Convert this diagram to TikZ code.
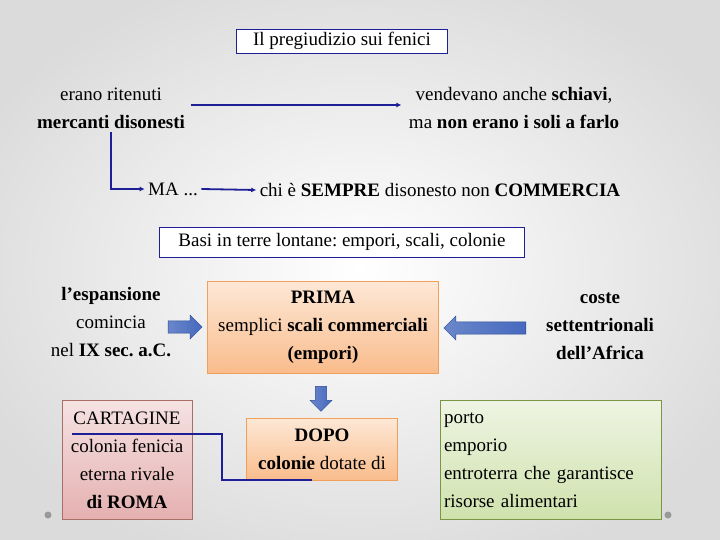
\documentclass[tikz,border=0pt]{standalone}
\usepackage{fontspec}
\setmainfont{Liberation Serif}
\frenchspacing
\usetikzlibrary{shapes.arrows,arrows.meta}
\definecolor{navy}{RGB}{30,30,150}
\definecolor{orbord}{RGB}{240,160,90}
\definecolor{ortop}{RGB}{253,232,214}
\definecolor{orbot}{RGB}{249,188,140}
\definecolor{pktop}{RGB}{246,226,226}
\definecolor{pkbot}{RGB}{229,176,176}
\definecolor{pkbord}{RGB}{170,110,105}
\definecolor{grtop}{RGB}{238,244,226}
\definecolor{grbot}{RGB}{207,226,173}
\definecolor{grbord}{RGB}{120,150,70}
\definecolor{arfill}{RGB}{70,105,190}
\definecolor{arbord}{RGB}{45,75,145}
\begin{document}
\begin{tikzpicture}[x=1pt,y=-1pt,font=\fontsize{19}{28}\selectfont,
  titlebox/.style={draw=navy,fill=white,inner sep=3pt},
  link/.style={navy,line width=1.8pt,-{Latex[length=5pt,width=5pt]}},
  orbox/.style={draw=orbord,top color=ortop,bottom color=orbot,align=center},
  blockar/.style={single arrow,draw=arbord,left color=arfill!80,right color=arfill,
    minimum height=#1,minimum width=24pt,single arrow head extend=3pt,inner sep=3pt}]
  \useasboundingbox (0,0) rectangle (720,540);
  \shade[inner color=white,outer color=black!14] (-60,-40) rectangle (780,580);
  \fill[black!40] (48,515) circle(3.5pt) (668,515) circle(3.5pt);
  % top part
  \node[titlebox,minimum width=211pt] (titolo) at (342,41) {Il pregiudizio sui fenici};
  \node[align=center] (ritenuti) at (111,108) {erano ritenuti\\\textbf{mercanti disonesti}};
  \node[align=center] (schiavi) at (514,108) {vendevano anche \textbf{schiavi},\\ma \textbf{non erano i soli a farlo}};
  \node (ma) at (173,189) {MA ...};
  \node (sempre) at (440,190) {chi è \textbf{SEMPRE} disonesto non \textbf{COMMERCIA}};
  \draw[link] ([xshift=2pt,yshift=3pt]ritenuti.east)--([xshift=-4pt,yshift=3pt]schiavi.west);
  \draw[link] (ritenuti.south)|-(ma.west);
  \draw[link] (ma.east)--(sempre.west);
  % basi
  \node[titlebox,minimum width=365pt,minimum height=30pt] (basi) at (342,242) {Basi in terre lontane: empori, scali, colonie};
  \node[align=center] (espansione) at (111,322) {\textbf{l’espansione}\\comincia\\nel \textbf{IX sec. a.C.}};
  \node[orbox,minimum width=231pt,minimum height=92pt] (prima) at (323,327)
    {\textbf{PRIMA}\\semplici \textbf{scali commerciali}\\\textbf{(empori)}};
  \node[align=center] (coste) at (600,326) {\textbf{coste}\\\textbf{settentrionali}\\\textbf{dell’Africa}};
  \node[blockar=34pt] (arsx) at (182,327) {};
  \node[blockar=82pt,shape border rotate=180] (ardx) at (488,328) {};
  \node[blockar=25pt,shape border rotate=270,minimum width=22pt] (argiu) at (321,396) {};
  % sotto
  \node[draw=pkbord,top color=pktop,bottom color=pkbot,align=center,
    minimum width=130pt,minimum height=119pt] (cartagine) at (127,460)
    {CARTAGINE\\colonia fenicia\\eterna rivale\\\textbf{di ROMA}};
  \node[orbox,minimum width=151pt,minimum height=62pt] (dopo) at (322,449)
    {\textbf{DOPO}\\\textbf{colonie} dotate di};
  \node[draw=grbord,top color=grtop,bottom color=grbot,align=left,text width=214pt,
    minimum height=119pt] (porto) at (551,460)
    {porto\\emporio\\entroterra che garantisce\\risorse alimentari};
  \coordinate (sottoc) at (72,434);
  \draw[navy,line width=1.6pt] (sottoc)--++(150,0)|-([xshift=-10pt]dopo.south);
\end{tikzpicture}
\end{document}
